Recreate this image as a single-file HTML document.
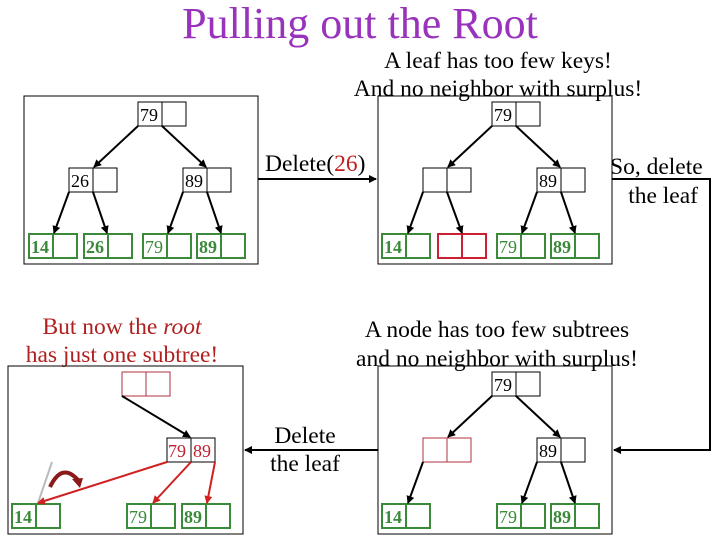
<!DOCTYPE html>
<html><head><style>body{margin:0;background:#fff}svg{display:block}text{font-family:"Liberation Serif",serif}</style></head><body>
<svg width="720" height="540" viewBox="0 0 720 540" xmlns="http://www.w3.org/2000/svg">
<defs>
<marker id="a" markerWidth="8" markerHeight="8" refX="7" refY="4" orient="auto" markerUnits="userSpaceOnUse"><path d="M0,0L8,4L0,8z" fill="#000"/></marker>
<marker id="r" markerWidth="8" markerHeight="8" refX="7" refY="4" orient="auto" markerUnits="userSpaceOnUse"><path d="M0,0L8,4L0,8z" fill="#d02020"/></marker>
</defs>
<text x="360" y="38" font-size="44" fill="#9933bb" text-anchor="middle">Pulling out the Root</text>
<g font-size="23.5" text-anchor="middle">
<text x="498" y="68">A leaf has too few keys!</text>
<text x="498" y="96">And no neighbor with surplus!</text>
<text x="497" y="337">A node has too few subtrees</text>
<text x="497" y="366">and no neighbor with surplus!</text>
<text x="305" y="443">Delete</text>
<text x="305" y="471">the leaf</text>
<text x="122" y="334" fill="#b02020">But now the <tspan font-style="italic">root</tspan></text>
<text x="122" y="362" fill="#b02020">has just one subtree!</text>
</g>
<text x="265" y="171" font-size="23.5">Delete(<tspan fill="#c02020">26</tspan>)</text>
<text x="610" y="174" font-size="23.5">So, delete</text>
<text x="698" y="203" font-size="23.5" text-anchor="end">the leaf</text>
<g fill="none" stroke="#000" stroke-width="2">
<line x1="258" y1="179" x2="376" y2="179" marker-end="url(#a)"/>
<polyline points="612,179 710,179 710,450 614,450" marker-end="url(#a)"/>
<line x1="378" y1="450" x2="245" y2="450" marker-end="url(#a)"/>
</g>
<g fill="none" stroke="#000" stroke-width="1">
<rect x="24" y="96" width="234" height="168"/>
<rect x="378" y="96" width="234" height="168"/>
<rect x="8" y="366" width="235" height="168"/>
<rect x="378" y="366" width="234" height="168"/>
</g>
<g fill="#fff" stroke="#000" stroke-width="1">
<rect x="138" y="102" width="24" height="24"/><rect x="162" y="102" width="24" height="24"/>
<rect x="69" y="168" width="24" height="24"/><rect x="93" y="168" width="24" height="24"/>
<rect x="183" y="168" width="24" height="24"/><rect x="207" y="168" width="24" height="24"/>
<rect x="492" y="102" width="24" height="24"/><rect x="516" y="102" width="24" height="24"/>
<rect x="423" y="168" width="24" height="24"/><rect x="447" y="168" width="24" height="24"/>
<rect x="537" y="168" width="24" height="24"/><rect x="561" y="168" width="24" height="24"/>
<rect x="492" y="372" width="24" height="24"/><rect x="516" y="372" width="24" height="24"/>
<rect x="537" y="438" width="24" height="24"/><rect x="561" y="438" width="24" height="24"/>
<rect x="167" y="438" width="24" height="24"/><rect x="191" y="438" width="24" height="24"/>
</g>
<g fill="#fff" stroke="#b03040" stroke-width="1">
<rect x="423" y="438" width="24" height="24"/><rect x="447" y="438" width="24" height="24"/>
<rect x="122" y="372" width="24" height="24"/><rect x="146" y="372" width="24" height="24"/>
</g>
<g fill="#fff" stroke="#cc2030" stroke-width="2">
<rect x="438" y="234" width="24" height="24"/><rect x="462" y="234" width="24" height="24"/>
</g>
<g fill="#fff" stroke="#3a8a3a" stroke-width="2">
<rect x="29" y="234" width="24" height="24"/><rect x="53" y="234" width="24" height="24"/>
<rect x="84" y="234" width="24" height="24"/><rect x="108" y="234" width="24" height="24"/>
<rect x="143" y="234" width="24" height="24"/><rect x="167" y="234" width="24" height="24"/>
<rect x="197" y="234" width="24" height="24"/><rect x="221" y="234" width="24" height="24"/>
<rect x="382" y="234" width="24" height="24"/><rect x="406" y="234" width="24" height="24"/>
<rect x="497" y="234" width="24" height="24"/><rect x="521" y="234" width="24" height="24"/>
<rect x="551" y="234" width="24" height="24"/><rect x="575" y="234" width="24" height="24"/>
<rect x="382" y="504" width="24" height="24"/><rect x="406" y="504" width="24" height="24"/>
<rect x="497" y="504" width="24" height="24"/><rect x="521" y="504" width="24" height="24"/>
<rect x="551" y="504" width="24" height="24"/><rect x="575" y="504" width="24" height="24"/>
<rect x="12" y="504" width="24" height="24"/><rect x="36" y="504" width="24" height="24"/>
<rect x="127" y="504" width="24" height="24"/><rect x="151" y="504" width="24" height="24"/>
<rect x="182" y="504" width="24" height="24"/><rect x="206" y="504" width="24" height="24"/>
</g>
<g stroke="#000" stroke-width="2" fill="none">
<line x1="138" y1="126" x2="94" y2="167" marker-end="url(#a)"/>
<line x1="162" y1="126" x2="206" y2="167" marker-end="url(#a)"/>
<line x1="69" y1="192" x2="54" y2="233" marker-end="url(#a)"/>
<line x1="93" y1="192" x2="107" y2="233" marker-end="url(#a)"/>
<line x1="183" y1="192" x2="168" y2="233" marker-end="url(#a)"/>
<line x1="207" y1="192" x2="221" y2="233" marker-end="url(#a)"/>
<line x1="492" y1="126" x2="448" y2="167" marker-end="url(#a)"/>
<line x1="516" y1="126" x2="560" y2="167" marker-end="url(#a)"/>
<line x1="423" y1="192" x2="408" y2="233" marker-end="url(#a)"/>
<line x1="447" y1="192" x2="462" y2="233" marker-end="url(#a)"/>
<line x1="537" y1="192" x2="522" y2="233" marker-end="url(#a)"/>
<line x1="561" y1="192" x2="575" y2="233" marker-end="url(#a)"/>
<line x1="492" y1="396" x2="448" y2="437" marker-end="url(#a)"/>
<line x1="516" y1="396" x2="560" y2="437" marker-end="url(#a)"/>
<line x1="423" y1="462" x2="408" y2="503" marker-end="url(#a)"/>
<line x1="537" y1="462" x2="522" y2="503" marker-end="url(#a)"/>
<line x1="561" y1="462" x2="575" y2="503" marker-end="url(#a)"/>
<line x1="122" y1="396" x2="190" y2="437" marker-end="url(#a)"/>
</g>
<line x1="52" y1="462" x2="38" y2="503" stroke="#bbb" stroke-width="2"/>
<g stroke="#d02020" stroke-width="2" fill="none">
<line x1="167" y1="462" x2="38" y2="503" marker-end="url(#r)"/>
<line x1="191" y1="462" x2="153" y2="503" marker-end="url(#r)"/>
<line x1="215" y1="462" x2="207" y2="503" marker-end="url(#r)"/>
</g>
<path d="M50,487 Q62,462 78,480" stroke="#8b1a1a" stroke-width="4" fill="none"/>
<path d="M72,479 L83,478 L80,488z" fill="#8b1a1a"/>
<g font-size="18">
<text x="140" y="121">79</text><text x="71" y="187">26</text><text x="185" y="187">89</text>
<text x="494" y="121">79</text><text x="539" y="187">89</text>
<text x="494" y="391">79</text><text x="539" y="457">89</text>
<g fill="#c02030"><text x="168" y="457">79</text><text x="193" y="457">89</text></g>
</g>
<g font-size="18" font-weight="bold" fill="#3a8a3a">
<text x="31" y="253">14</text><text x="86" y="253">26</text><text x="145" y="253" font-weight="normal">79</text><text x="199" y="253">89</text>
<text x="384" y="253">14</text><text x="499" y="253" font-weight="normal">79</text><text x="553" y="253">89</text>
<text x="384" y="523">14</text><text x="499" y="523" font-weight="normal">79</text><text x="553" y="523">89</text>
<text x="14" y="523">14</text><text x="129" y="523" font-weight="normal">79</text><text x="184" y="523">89</text>
</g>
</svg>
</body></html>
